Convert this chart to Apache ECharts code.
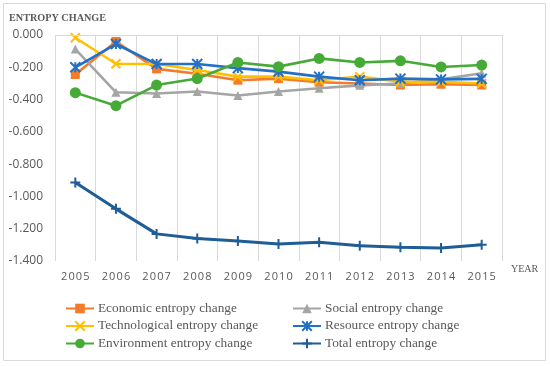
<!DOCTYPE html>
<html><head><meta charset="utf-8">
<script src="https://cdn.jsdelivr.net/npm/echarts@6/dist/echarts.min.js"></script>
<style>html,body{margin:0;padding:0;background:#fff}#c{width:550px;height:366px}</style>
</head><body><div id="c"></div>
<script>
var years = ['2005','2006','2007','2008','2009','2010','2011','2012','2013','2014','2015'];
var yTicks = ['0.000','-0.200','-0.400','-0.600','-0.800','-1.000','-1.200','-1.400'];
var economic = [-0.245,-0.040,-0.210,-0.240,-0.280,-0.270,-0.293,-0.300,-0.310,-0.305,-0.310];
var social = [-0.087,-0.355,-0.362,-0.350,-0.375,-0.350,-0.330,-0.312,-0.300,-0.275,-0.237];
var technological = [-0.017,-0.178,-0.180,-0.217,-0.258,-0.258,-0.280,-0.258,-0.290,-0.290,-0.300];
var resource = [-0.200,-0.056,-0.180,-0.180,-0.205,-0.227,-0.258,-0.280,-0.270,-0.275,-0.272];
var environment = [-0.357,-0.438,-0.310,-0.270,-0.170,-0.196,-0.145,-0.170,-0.160,-0.198,-0.186];
var total = [-0.914,-1.077,-1.232,-1.260,-1.276,-1.294,-1.284,-1.306,-1.315,-1.319,-1.300];

var names = ['Economic entropy change','Social entropy change','Technological entropy change','Resource entropy change','Environment entropy change','Total entropy change'];
var colors = ['#F47B2A','#A5A5A5','#FFC000','#2370C8','#45AA36','#1F5D96'];
var dataSets = [economic, social, technological, resource, environment, total];
var symbols = ['rect','triangle','path://M0,0L10,10M10,0L0,10','path://M5,0L5,10M0,0L10,10M10,0L0,10','circle','path://M5,0L5,10M0,5L10,5'];
var sizes = [9,9,9,10,11,10];
var strokeSym = [false,false,true,true,false,true];

var series = dataSets.map(function(d,i){
  var c = colors[i];
  var s = {
    name: names[i], type:'line', data:d, symbol:symbols[i], symbolSize:sizes[i],
    showAllSymbol:true,
    lineStyle:{color:c, width: i===5?3:2.6},
    itemStyle: strokeSym[i] ? {color:c, borderColor:c, borderWidth:2} : {color:c, borderWidth:0},
    z: 2 + i
  };
  if(i===0){
    s.markLine = {silent:true, symbol:'none', label:{show:false}, animation:false,
      lineStyle:{color:'#d9d9d9', type:'solid', width:1}, data:[{yAxis:0}]};
  }
  return s;
});

var chart = echarts.init(document.getElementById('c'));
var legendText = {fontFamily:'Liberation Serif', fontSize:13.3, color:'#595959', padding:[0,0,0,-1]};
chart.setOption({
  animation:false,
  backgroundColor:'#fff',
  graphic:[{type:'rect', shape:{x:3.5,y:3.5,width:542,height:357}, style:{fill:'none', stroke:'#d9d9d9', lineWidth:1}, silent:true}],
  title:[
    {text:'ENTROPY CHANGE', left:4, top:8, textStyle:{fontFamily:'Liberation Serif', fontSize:10.2, fontWeight:'bold', color:'#595959'}},
    {text:'YEAR', left:506, top:259, textStyle:{fontFamily:'Liberation Serif', fontSize:10, fontWeight:'normal', color:'#595959'}}
  ],
  grid:{left:55, right:48, top:35, bottom:105},
  xAxis:{type:'category', data:years, boundaryGap:true,
    axisLine:{show:false}, axisTick:{show:false},
    splitLine:{show:true, lineStyle:{color:'#d9d9d9', width:1}},
    axisLabel:{margin:10, fontFamily:'Open Sans', fontSize:11, color:'#595959',
      formatter:function(v){return v.split('').join('\u200A');}}
  },
  yAxis:{type:'value', min:-1.4, max:0, interval:0.2,
    axisLine:{show:false}, axisTick:{show:false}, splitLine:{show:false},
    axisLabel:{margin:12, fontFamily:'Open Sans', fontSize:12, color:'#595959',
      formatter:function(v){return yTicks[Math.round(-v/0.2)];}}
  },
  legend:[
    {data:[names[0],names[2],names[4]], orient:'vertical', left:65, top:302, padding:0, itemWidth:28, itemHeight:12, itemGap:4.5, textStyle:legendText, selectedMode:false},
    {data:[names[1],names[3],names[5]], orient:'vertical', left:292, top:302, padding:0, itemWidth:28, itemHeight:12, itemGap:4.5, textStyle:legendText, selectedMode:false}
  ],
  series:series
});
</script></body></html>
